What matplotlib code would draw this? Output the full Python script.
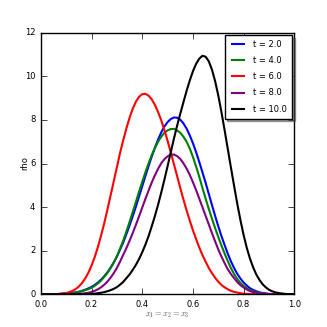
import matplotlib
matplotlib.use("Agg")
import matplotlib.pyplot as plt

plt.style.use("classic")
plt.rcParams["font.size"] = 6

x = [0.0, 0.0125, 0.025, 0.0375, 0.05, 0.0625, 0.075, 0.0875, 0.1, 0.1125,
     0.125, 0.1375, 0.15, 0.1625, 0.175, 0.1875, 0.2, 0.2125, 0.225, 0.2375,
     0.25, 0.2625, 0.275, 0.2875, 0.3, 0.3125, 0.325, 0.3375, 0.35, 0.3625,
     0.375, 0.3875, 0.4, 0.4125, 0.425, 0.4375, 0.45, 0.4625, 0.475, 0.4875,
     0.5, 0.5125, 0.525, 0.5375, 0.55, 0.5625, 0.575, 0.5875, 0.6, 0.6125,
     0.625, 0.6375, 0.65, 0.6625, 0.675, 0.6875, 0.7, 0.7125, 0.725, 0.7375,
     0.75, 0.7625, 0.775, 0.7875, 0.8, 0.8125, 0.825, 0.8375, 0.85, 0.8625,
     0.875, 0.8875, 0.9, 0.9125, 0.925, 0.9375, 0.95, 0.9625, 0.975, 0.9875,
     1.0]

rho_t2 = [0, 0, 0, 0, 0.01, 0.01, 0.02, 0.03, 0.04, 0.05,
          0.07, 0.09, 0.12, 0.16, 0.21, 0.27, 0.34, 0.43, 0.54, 0.67,
          0.83, 1.01, 1.22, 1.46, 1.73, 2.05, 2.38, 2.76, 3.16, 3.58,
          4.03, 4.49, 4.96, 5.43, 5.88, 6.32, 6.73, 7.1, 7.43, 7.7,
          7.9, 8.04, 8.11, 8.1, 8.01, 7.84, 7.6, 7.29, 6.93, 6.52,
          6.07, 5.6, 5.12, 4.61, 4.1, 3.6, 3.12, 2.67, 2.26, 1.86,
          1.51, 1.2, 0.94, 0.72, 0.54, 0.4, 0.28, 0.2, 0.14, 0.09,
          0.06, 0.04, 0.02, 0.01, 0.01, 0, 0, 0, 0, 0,
          0]
rho_t4 = [0, 0, 0, 0, 0, 0.01, 0.01, 0.02, 0.03, 0.04,
          0.06, 0.08, 0.11, 0.14, 0.19, 0.24, 0.3, 0.39, 0.5, 0.63,
          0.8, 0.98, 1.2, 1.45, 1.75, 2.1, 2.47, 2.88, 3.32, 3.78,
          4.24, 4.71, 5.16, 5.6, 6.01, 6.39, 6.71, 7.0, 7.23, 7.41,
          7.52, 7.58, 7.59, 7.52, 7.41, 7.23, 7.0, 6.69, 6.3, 5.86,
          5.39, 4.88, 4.39, 3.92, 3.47, 3.04, 2.63, 2.24, 1.87, 1.52,
          1.2, 0.93, 0.7, 0.52, 0.38, 0.28, 0.19, 0.13, 0.09, 0.06,
          0.04, 0.02, 0.01, 0.01, 0, 0, 0, 0, 0, 0,
          0]
rho_t6 = [0, 0, 0, 0, 0.01, 0.01, 0.02, 0.04, 0.06, 0.1,
          0.16, 0.24, 0.36, 0.52, 0.73, 0.99, 1.32, 1.71, 2.17, 2.69,
          3.26, 3.88, 4.53, 5.18, 5.83, 6.49, 7.07, 7.61, 8.1, 8.51,
          8.84, 9.06, 9.18, 9.2, 9.11, 8.94, 8.69, 8.36, 7.98, 7.53,
          7.04, 6.51, 5.97, 5.43, 4.88, 4.35, 3.85, 3.38, 2.94, 2.53,
          2.15, 1.8, 1.5, 1.21, 0.97, 0.76, 0.58, 0.43, 0.32, 0.23,
          0.16, 0.11, 0.08, 0.05, 0.03, 0.02, 0.01, 0.01, 0, 0,
          0, 0, 0, 0, 0, 0, 0, 0, 0, 0,
          0]
rho_t8 = [0, 0, 0, 0, 0, 0, 0, 0, 0, 0,
          0.01, 0.01, 0.02, 0.03, 0.05, 0.07, 0.11, 0.16, 0.23, 0.32,
          0.44, 0.58, 0.76, 0.97, 1.21, 1.5, 1.81, 2.12, 2.46, 2.81,
          3.19, 3.58, 3.98, 4.38, 4.76, 5.13, 5.46, 5.76, 6.01, 6.2,
          6.33, 6.41, 6.41, 6.34, 6.21, 6.01, 5.77, 5.48, 5.14, 4.78,
          4.39, 4.0, 3.6, 3.21, 2.81, 2.43, 2.06, 1.73, 1.43, 1.15,
          0.93, 0.74, 0.56, 0.42, 0.31, 0.22, 0.15, 0.1, 0.07, 0.04,
          0.03, 0.02, 0.01, 0.01, 0, 0, 0, 0, 0, 0,
          0]
rho_t10 = [0, 0, 0, 0, 0, 0, 0, 0, 0, 0,
           0, 0, 0, 0, 0.01, 0.01, 0.02, 0.03, 0.05, 0.07,
           0.1, 0.14, 0.19, 0.25, 0.33, 0.44, 0.57, 0.74, 0.91, 1.12,
           1.35, 1.62, 1.93, 2.28, 2.67, 3.12, 3.59, 4.11, 4.67, 5.26,
           5.88, 6.51, 7.14, 7.73, 8.28, 8.81, 9.33, 9.81, 10.23, 10.57,
           10.81, 10.94, 10.9, 10.69, 10.31, 9.78, 9.12, 8.36, 7.53, 6.67,
           5.81, 4.97, 4.15, 3.4, 2.72, 2.13, 1.64, 1.24, 0.91, 0.66,
           0.46, 0.32, 0.21, 0.14, 0.09, 0.06, 0.04, 0.02, 0.01, 0.01,
           0]

series = [("t = 2.0", rho_t2, "blue"),
          ("t = 4.0", rho_t4, "green"),
          ("t = 6.0", rho_t6, "red"),
          ("t = 8.0", rho_t8, "purple"),
          ("t = 10.0", rho_t10, "black")]

fig = plt.figure(figsize=(3.27, 3.27), dpi=100)
fig.subplots_adjust(left=0.125, right=0.9, bottom=0.1, top=0.9)
ax = fig.add_subplot(111)

for label, y, color in series:
    ax.plot(x, y, color=color, lw=1.5, label=label)

ax.set_xlim(0, 1)
ax.set_ylim(0, 12)
ax.set_xlabel("$x_1=x_2=x_3$", color="#555555", labelpad=1)
ax.set_ylabel("rho", labelpad=-3)
ax.tick_params(labelsize=6)
ax.legend(loc="upper right", fontsize=6, shadow=True, fancybox=False,
          labelspacing=0.85, borderpad=0.6, borderaxespad=0.3)

fig.savefig("out.png", dpi=100)
